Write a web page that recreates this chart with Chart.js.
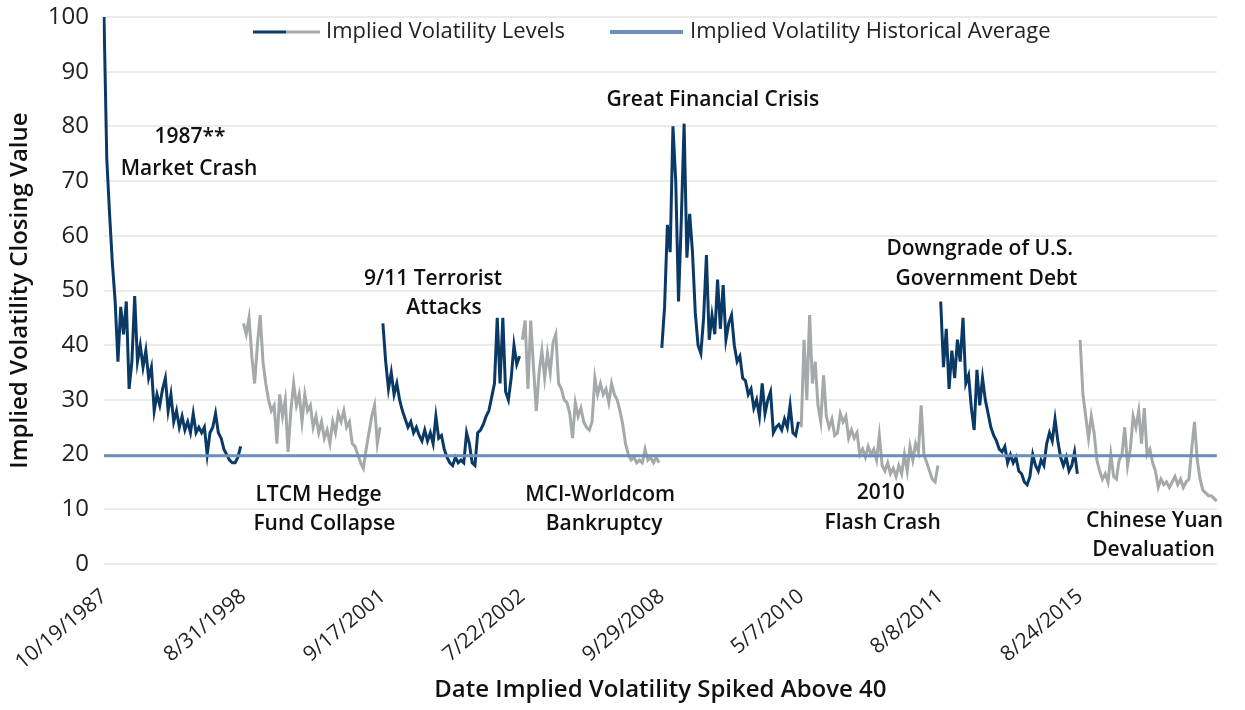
<!DOCTYPE html>
<html>
<head>
<meta charset="utf-8">
<script src="https://cdn.jsdelivr.net/npm/chart.js@4.4.1/dist/chart.umd.min.js"></script>
<style>
    html, body { margin: 0; padding: 0; background: #fff; }
    #wrap { width: 1245px; height: 710px; }
</style>
</head>
<body>
<div id="wrap"><canvas id="volChart"></canvas></div>
<script>
// dates on which implied volatility spiked above 40 (one episode each)
const spikeDates = ['10/19/1987', '8/31/1998', '9/17/2001', '7/22/2002', '9/29/2008', '5/7/2010', '8/8/2011', '8/24/2015'];

const vol1987 = [100, 74, 64, 55, 48, 37, 47, 42, 48, 32, 37, 49, 37, 40, 36, 39, 34, 36, 28, 31, 29, 32, 34, 28, 31, 26, 28, 25, 27, 24.5, 26, 24, 27.5, 24, 25, 24, 25, 20, 24, 25, 27.5, 24, 23, 21, 20, 19, 18.5, 18.5, 19.5, 21.5];
const vol1998 = [44, 42, 45, 38, 33, 40, 45.5, 37, 33, 30, 28, 29, 22, 31, 27, 30, 20.5, 28, 33, 29, 31, 26, 31, 28, 29, 25, 27, 24, 26, 23, 24.5, 22, 26, 24, 27.5, 26, 28, 25, 26, 22, 21.5, 20, 18.5, 17.5, 21, 24, 27, 29, 22, 25];
const vol2001 = [44, 37, 32, 35, 31, 33, 30, 28, 26.5, 25, 26, 24, 25, 23.5, 22.5, 24.5, 22.5, 24, 22, 27, 23, 23.5, 21, 19.5, 18.5, 18, 19.5, 18.5, 19, 18.5, 24, 22, 18.5, 18, 24, 24.5, 25.5, 27, 28, 30.5, 33, 45, 33, 45, 31.5, 30, 34, 40, 36.5, 38];
const vol2002 = [41, 44.5, 32, 44.5, 36, 28, 35, 39, 34, 38.5, 35, 40.5, 42, 33, 32, 30, 29.5, 27.5, 23, 29.5, 27, 28.5, 26, 25, 24.5, 26, 34, 31, 33, 31, 32, 29.5, 33, 31, 30, 28, 25.5, 22, 20, 19, 19.5, 18.5, 19, 18.5, 21, 19, 19.5, 18.5, 19.5, 18.5];
const vol2008 = [39.5, 47, 62, 57, 80, 70, 48, 63, 80.5, 56, 64, 57, 46, 40, 38.5, 45, 56.5, 41, 45.5, 42, 52, 43, 51, 41, 44, 45.5, 40, 37, 38, 34, 33.5, 31, 32, 28.5, 30, 27, 33, 27.5, 30, 31.5, 24, 25, 25.5, 24.5, 26.5, 25, 29, 24, 23.5, 26];
const vol2010 = [25, 41, 30, 45.5, 33, 37, 29, 26, 34.5, 27, 25, 26.5, 23.5, 24, 27.5, 26, 27, 23, 24.5, 23, 24, 20, 21, 19.5, 21.5, 20, 21, 19, 23.5, 18, 17, 18.5, 16.5, 17.5, 16, 18, 16.5, 20, 17, 21.5, 19, 22, 20.5, 29, 20, 18.5, 17, 15.5, 15, 18];
const vol2011 = [48, 36, 43, 32, 39, 34, 41, 37, 45, 33, 34.5, 28.5, 24.5, 35.5, 29, 34, 30, 27.5, 25, 23.5, 22.5, 21, 20.5, 21.5, 18.5, 20, 18.5, 19.5, 17, 16.5, 15, 14.5, 16, 20, 18, 17, 19, 18, 22, 24, 22.5, 26.5, 22.5, 19.5, 18, 19.5, 17, 18, 20.5, 16.5];
const vol2015 = [41, 31, 27, 23, 27, 24, 19, 17, 15.5, 16.5, 15, 20, 16, 15.5, 19, 20, 25, 18, 21, 27, 25, 28, 22, 28.5, 20, 21, 18.5, 17, 14, 15.5, 14.5, 15, 14, 15, 16, 14.5, 15.5, 14, 15, 15.5, 21, 26, 19, 15.5, 13.5, 13, 12.5, 12.5, 12, 11.5];

const historicalAverage = 19.8;

// event notes: text line, category index, value
const eventNotes = [
    ['1987**', 30.8, 78.1],
    ['Market Crash', 30.5, 72.2],
    ['9/11 Terrorist', 118, 52.1],
    ['Attacks', 121.9, 46.8],
    ['Great Financial Crisis', 218.3, 84.8],
    ['Downgrade of U.S.', 314, 57.6],
    ['Government Debt', 316.4, 52.1],
    ['LTCM Hedge', 76.9, 12.6],
    ['Fund Collapse', 79, 7.3],
    ['MCI-Worldcom', 177.9, 12.6],
    ['Bankruptcy', 179.3, 7.3],
    ['2010', 278.5, 13],
    ['Flash Crash', 279.2, 7.5],
    ['Chinese Yuan', 376.7, 7.9],
    ['Devaluation', 376.3, 2.6]
];

const episodes = [vol1987, vol1998, vol2001, vol2002, vol2008, vol2010, vol2011, vol2015];

const NAVY = '#0b3966';
const GREY = '#a5a9aa';
const AVG = '#6a8fbb';
const FONT = "'Open Sans', 'Noto Sans', sans-serif";

const perEpisode = vol1987.length;
const total = perEpisode * episodes.length;

const labels = [];
for (let i = 0; i < total; i++) {
    labels.push(i % perEpisode === 0 ? spikeDates[i / perEpisode] : '');
}

const datasets = [];
datasets.push({
    label: 'Implied Volatility Historical Average',
    data: labels.map(() => historicalAverage),
    borderColor: AVG,
    borderWidth: 3,
    pointRadius: 0,
    order: 0
});

episodes.forEach((ep, k) => {
    const data = new Array(total).fill(null);
    ep.forEach((v, i) => { data[k * perEpisode + i] = v; });
    datasets.push({
        label: 'Implied Volatility Levels',
        data: data,
        borderColor: k % 2 === 0 ? NAVY : GREY,
        borderWidth: 3,
        pointRadius: 0,
        spanGaps: false,
        order: 1
    });
});

const notesPlugin = {
    id: 'notes',
    afterDraw(chart) {
        const ctx = chart.ctx;
        const x = chart.scales.x;
        const y = chart.scales.y;
        ctx.save();
        ctx.fillStyle = '#111';
        ctx.font = '600 21px ' + FONT;
        ctx.textAlign = 'center';
        ctx.textBaseline = 'middle';
        eventNotes.forEach(n => {
            ctx.fillText(n[0], x.getPixelForValue(n[1]), y.getPixelForValue(n[2]));
        });

        // legend
        ctx.lineWidth = 3;
        ctx.lineCap = 'butt';
        const ly = 32;
        ctx.strokeStyle = NAVY;
        ctx.beginPath(); ctx.moveTo(253, ly); ctx.lineTo(286, ly); ctx.stroke();
        ctx.strokeStyle = GREY;
        ctx.beginPath(); ctx.moveTo(286, ly); ctx.lineTo(320, ly); ctx.stroke();
        ctx.strokeStyle = AVG;
        ctx.lineWidth = 4;
        ctx.beginPath(); ctx.moveTo(610, ly); ctx.lineTo(683, ly); ctx.stroke();
        ctx.font = '22px ' + FONT;
        ctx.fillStyle = '#222';
        ctx.textAlign = 'left';
        ctx.fillText('Implied Volatility Levels', 326, ly);
        ctx.fillText('Implied Volatility Historical Average', 690, ly);
        ctx.restore();
    }
};

const volChart = new Chart(document.getElementById('volChart'), {
    type: 'line',
    data: { labels: labels, datasets: datasets },
    options: {
        responsive: true,
        maintainAspectRatio: false,
        animation: false,
        layout: { padding: { top: 17, right: 15, left: 0, bottom: 0 }, autoPadding: false },
        plugins: {
            legend: { display: false },
            tooltip: { enabled: false }
        },
        scales: {
            x: {
                offset: false,
                grid: { display: false },
                border: { display: false },
                ticks: {
                    autoSkip: false,
                    maxRotation: 40,
                    minRotation: 40,
                    padding: 12,
                    color: '#222',
                    font: { family: FONT, size: 21 },
                    callback: function(value) { return this.getLabelForValue(value); }
                },
                title: {
                    display: true,
                    text: 'Date Implied Volatility Spiked Above 40',
                    color: '#111',
                    font: { family: FONT, size: 24, weight: '600' },
                    padding: { top: 0, bottom: 5 }
                },
                afterFit: scale => { scale.height = 146; }
            },
            y: {
                min: 0,
                max: 100,
                grid: { color: '#ebebeb', lineWidth: 2, drawTicks: true, tickLength: 14, tickColor: 'rgba(0,0,0,0)' },
                border: { display: false },
                ticks: {
                    stepSize: 10,
                    padding: 1,
                    color: '#222',
                    font: { family: FONT, size: 24 }
                },
                title: {
                    display: true,
                    text: 'Implied Volatility Closing Value',
                    color: '#111',
                    font: { family: FONT, size: 24, weight: '600' },
                    padding: { top: 6, bottom: 0 }
                },
                afterFit: scale => { scale.width = 104; }
            }
        }
    },
    plugins: [notesPlugin]
});
</script>
</body>
</html>
